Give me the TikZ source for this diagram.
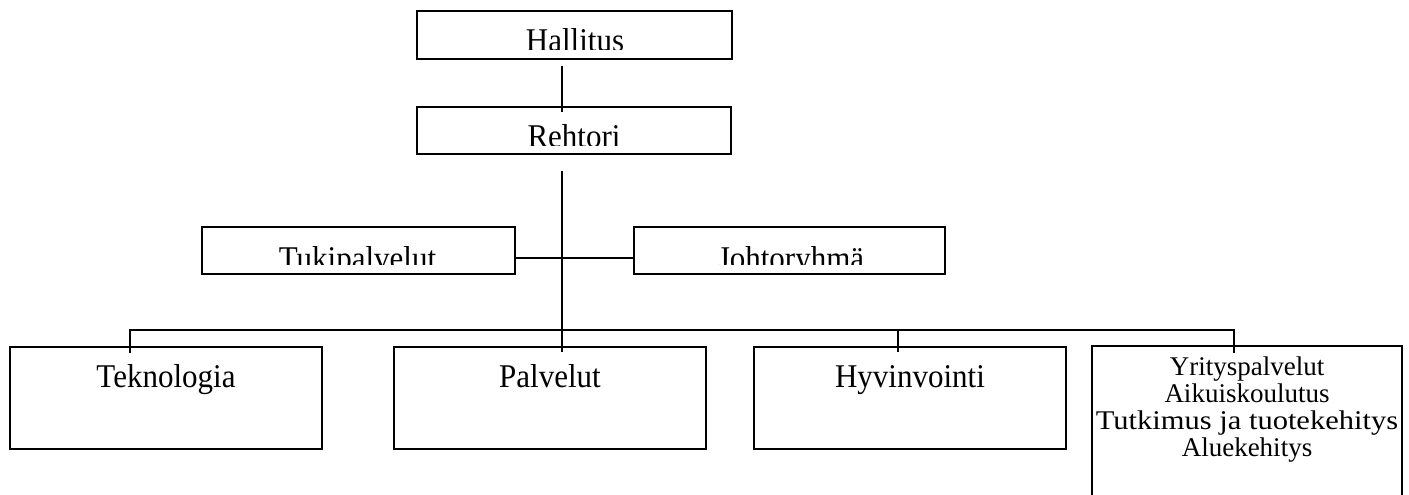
\documentclass[tikz,border=0pt]{standalone}
\usepackage{fontspec}
\usepackage{graphicx}
\setmainfont{Liberation Serif}
\usetikzlibrary{calc}
\newcommand{\tallword}[1]{\scalebox{1}[1.07]{#1}}
\begin{document}
\begin{tikzpicture}[x=1pt,y=-1pt,line width=1.6pt,
  orgbox/.style={draw,line width=1.6pt,inner sep=0pt,minimum width=312pt,minimum height=102pt},
  topbox/.style={orgbox,minimum height=47pt},
  bigtext/.style={inner sep=0pt,anchor=base,font=\fontsize{31}{36}\selectfont},
  smalltext/.style={inner sep=0pt,anchor=base,align=center,font=\fontsize{27}{26.7}\selectfont}]
\useasboundingbox (0,0) rectangle (1409,495);
\clip (0,0) rectangle (1409,495);
\coordinate (spine) at (562,0);
% boxes
\node[topbox,minimum width=315pt,minimum height=48pt] (hal) at (574.5,35) {};
\node[topbox,minimum width=314pt] (reh) at (574,130.5) {};
\node[topbox,minimum width=313pt] (tuk) at (358.5,250.5) {};
\node[topbox,minimum width=311pt] (joh) at (789.5,250.5) {};
\node[orgbox] (tek) at (166,398) {};
\node[orgbox] (pal) at (550,398) {};
\node[orgbox] (hyv) at (910,398) {};
\node[orgbox,minimum width=310pt,minimum height=200pt,anchor=north] (yri) at (1247,345) {};
% clipped texts of the upper boxes
\begin{scope}
\clip (hal.north west) rectangle ($(hal.south east)+(0,-10.5)$);
\node[bigtext] (halt) at (575,52) {\tallword{Hallitus}};
\end{scope}
\begin{scope}
\clip (reh.north west) rectangle ($(reh.south east)+(0,-9)$);
\node[bigtext] (reht) at (574,147) {\tallword{Rehtori}};
\end{scope}
\begin{scope}
\clip (tuk.north west) rectangle ($(tuk.south east)+(0,-10)$);
\node[bigtext] (tukt) at (357.5,269) {\tallword{Tukipalvelut}};
\end{scope}
\begin{scope}
\clip (joh.north west) rectangle ($(joh.south east)+(0,-10)$);
\node[bigtext] (joht) at (791,269) {\tallword{Johtoryhmä}};
\end{scope}
% texts of the lower boxes
\node[bigtext] (tekt) at (166,387) {\tallword{Teknologia}};
\node[bigtext] (palt) at (550,387) {\tallword{Palvelut}};
\node[bigtext] (hyvt) at (910,387) {\tallword{Hyvinvointi}};
\node[smalltext] (yrit) at (1247,456) {Yrityspalvelut\\Aikuiskoulutus\\\scalebox{1.13}[1]{Tutkimus ja tuotekehitys}\\Aluekehitys};
% connectors
\draw ($(hal.south -| spine)+(0,6)$) -- ($(reh.north -| spine)+(0,6)$);
\draw ($(reh.south -| spine)+(0,16)$) -- ($(pal.north -| spine)+(0,6)$);
\draw ($(tuk.east)+(0,7.5)$) -- ($(joh.west)+(0,7.5)$);
\draw ($(tek.north)+(-36,7)$) |- ($(yri.north)+(-13,-15)$) -- ($(yri.north)+(-13,8)$);
\draw ($(hyv.north)+(-12,-17)$) -- ($(hyv.north)+(-12,6)$);
\end{tikzpicture}
\end{document}
